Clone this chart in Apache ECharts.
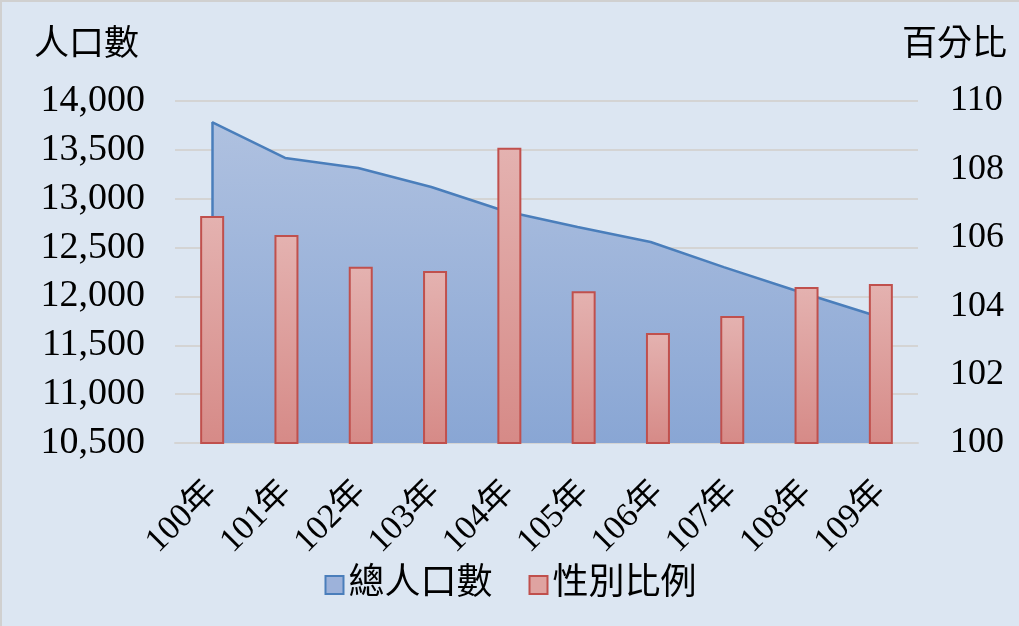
<!DOCTYPE html>
<html>
<head>
<meta charset="utf-8">
<script src="https://cdn.jsdelivr.net/npm/echarts@6/dist/echarts.min.js"></script>
<style type="text/css">
	html,body{margin:0;padding:0;background:#dce6f2;}
	#main{width:1019px;height:626px;box-sizing:border-box;border-top:2px solid #d0d0d0;border-left:2px solid #d0d0d0;}
</style>
</head>
<body>
<div id="main"></div>
<script type="text/javascript">
// 年度
var years = ['100年','101年','102年','103年','104年','105年','106年','107年','108年','109年'];
// 總人口數 (左軸)
var totalPop = [13785, 13417, 13314, 13120, 12874, 12710, 12557, 12300, 12055, 11820];
// 性別比例 (右軸, 百分比)
var sexRatio = [106.64, 106.08, 105.15, 105.03, 108.63, 104.44, 103.22, 103.71, 104.56, 104.65];

var FONT = "'Liberation Serif', 'Noto Sans CJK TC', serif";
var popMin = 10500;

var chart = echarts.init(document.getElementById('main'));

var option = {
	backgroundColor: '#dce6f2',
	textStyle: {fontFamily: FONT},
	grid: {left: 173, right: 101, top: 99, bottom: 183},
	// 軸標題
	graphic: [
		{type: 'text', left: 32, top: 26, style: {text: '人口數', fontSize: 35, fill: '#000', fontFamily: FONT}},
		{type: 'text', right: 12, top: 26, style: {text: '百分比', fontSize: 35, fill: '#000', fontFamily: FONT}}
	],
	legend: {
		bottom: 18,
		left: 'center',
		itemWidth: 18,
		itemHeight: 18,
		itemGap: 36,
		textStyle: {fontFamily: FONT, fontSize: 36, color: '#000'},
		data: [
			{name: '總人口數', icon: 'rect', itemStyle: {color: '#9db2da', borderColor: '#4a7ebb', borderWidth: 2}},
			{name: '性別比例', icon: 'rect', itemStyle: {color: '#dfa3a1', borderColor: '#c0504d', borderWidth: 2}}
		]
	},
	xAxis: [
		{
			type: 'category',
			data: years,
			axisLine: {lineStyle: {color: '#d4d4d4', width: 2}},
			axisTick: {show: false},
			axisLabel: {rotate: 45, fontSize: 34, color: '#000', margin: 44, fontFamily: FONT}
		},
		{
			// 面積圖的橫軸 (與柱狀略有偏移)
			type: 'value',
			min: -0.506,
			max: 9.657,
			show: false
		}
	],
	yAxis: [
		{
			type: 'value',
			min: popMin,
			max: 14000,
			interval: 500,
			axisLine: {show: false},
			axisTick: {show: false},
			splitLine: {lineStyle: {color: '#d4d4d4', width: 2}},
			axisLabel: {
				fontSize: 38, color: '#000', margin: 30, fontFamily: FONT,
				formatter: function(v){ return v.toLocaleString('en-US'); }
			}
		},
		{
			type: 'value',
			min: 100,
			max: 110,
			interval: 2,
			axisLine: {show: false},
			axisTick: {show: false},
			splitLine: {show: false},
			axisLabel: {fontSize: 36, color: '#000', margin: 32, fontFamily: FONT}
		}
	],
	series: [
		{
			name: '總人口數',
			type: 'line',
			xAxisIndex: 1,
			yAxisIndex: 0,
			data: totalPop.map(function(v, i){ return [i, v]; }),
			symbol: 'none',
			lineStyle: {color: '#4a7ebb', width: 2.5},
			itemStyle: {color: '#9db2da'},
			areaStyle: {
				origin: 'start',
				opacity: 1,
				color: new echarts.graphic.LinearGradient(0, 0, 0, 1, [
					{offset: 0, color: '#afc1e0'},
					{offset: 1, color: '#89a6d4'}
				])
			},
			markLine: {
				silent: true,
				z: 2,
				symbol: 'none',
				label: {show: false},
				lineStyle: {color: '#4a7ebb', width: 2.5, type: 'solid'},
				data: [[{coord: [0, popMin]}, {coord: [0, totalPop[0]]}]]
			},
			z: 1
		},
		{
			name: '性別比例',
			type: 'bar',
			xAxisIndex: 0,
			yAxisIndex: 1,
			data: sexRatio,
			barWidth: 24,
			itemStyle: {
				borderColor: '#c0504d',
				borderWidth: 2,
				color: new echarts.graphic.LinearGradient(0, 0, 0, 1, [
					{offset: 0, color: '#e4b2b0'},
					{offset: 1, color: '#d68a87'}
				])
			},
			z: 3
		}
	]
};

chart.setOption(option);
</script>
</body>
</html>
